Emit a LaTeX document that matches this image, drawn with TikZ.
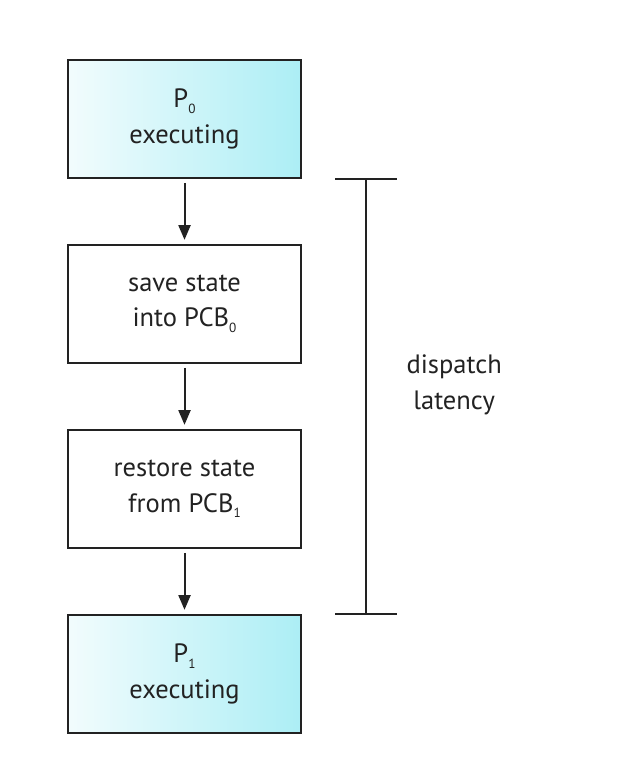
\documentclass[tikz,border=0pt]{standalone}
\usepackage{fontspec}
\setmainfont{PT Sans}
\usepackage{xcolor}
\usetikzlibrary{positioning,arrows.meta,calc}
\definecolor{procfill}{HTML}{ACEEF5}
\definecolor{procpale}{HTML}{F2FCFD}
\definecolor{linegray}{HTML}{222222}
\newcommand{\idx}[1]{\raisebox{-0.45ex}{\fontsize{10}{10}\selectfont#1}}

\begin{document}
\begin{tikzpicture}[
  font=\fontsize{20}{27}\selectfont,
  text=linegray,
  >={Triangle[width=9pt, length=11pt]},
  box/.style={draw=linegray, line width=1.5pt, align=center, minimum width=6.17cm, minimum height=3.13cm, inner sep=0pt},
  proc/.style={box, left color=procpale, right color=procfill},
  arr/.style={->, line width=1.5pt, draw=linegray, shorten <=3pt, shorten >=3pt},
  bar/.style={line width=1.5pt, draw=linegray},
]
\useasboundingbox (0,0) rectangle (16.59,-20.46);
\node[proc] (p0) at (4.89,-3.15) {P\idx{0}\\executing};
\node[box, below=1.72cm of p0] (save) {save state\\into PCB\idx{0}};
\node[box, below=1.72cm of save] (rest) {restore state\\from PCB\idx{1}};
\node[proc, below=1.72cm of rest] (p1) {P\idx{1}\\executing};
\draw[arr] (p0) -- (save);
\draw[arr] (save) -- (rest);
\draw[arr] (rest) -- (p1);
% latency bracket
\coordinate (bt) at ($(p0.south)+(4.81,0)$);
\coordinate (bb) at ($(p1.north)+(4.81,0)$);
\draw[bar] (bt) -- (bb);
\draw[bar] ([xshift=-0.82cm]bt) -- ([xshift=0.82cm]bt);
\draw[bar] ([xshift=-0.82cm]bb) -- ([xshift=0.82cm]bb);
\node[align=center, right=0.95cm of $(bt)!0.5!(bb)$, yshift=0.3cm] (lat) {dispatch\\latency};
\end{tikzpicture}
\end{document}
